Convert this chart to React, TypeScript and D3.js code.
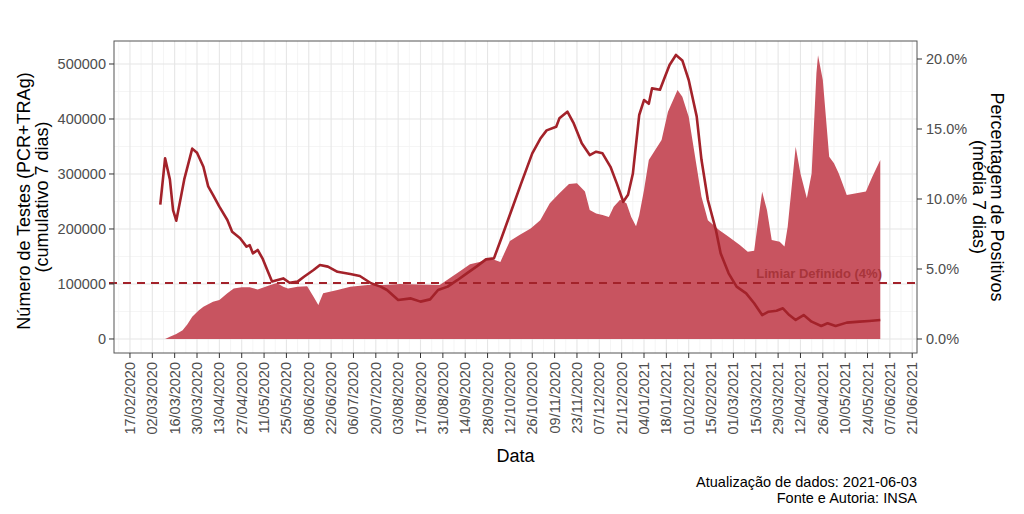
import React from "react";
import * as d3 from "d3";

// testes (cumulativo 7 dias)
const testDates = [
  "2020-03-07", "2020-03-10", "2020-03-13", "2020-03-17", "2020-03-21", "2020-03-24", "2020-03-27", "2020-03-31",
  "2020-04-03", "2020-04-09", "2020-04-13", "2020-04-18", "2020-04-22", "2020-04-27", "2020-05-02", "2020-05-07",
  "2020-05-15", "2020-05-19", "2020-05-23", "2020-05-26", "2020-06-01", "2020-06-07", "2020-06-11", "2020-06-14",
  "2020-06-17", "2020-06-26", "2020-07-04", "2020-07-15", "2020-07-25", "2020-08-04", "2020-08-29", "2020-09-04",
  "2020-09-10", "2020-09-17", "2020-09-23", "2020-09-29", "2020-10-03", "2020-10-06", "2020-10-12", "2020-10-18",
  "2020-10-25", "2020-10-31", "2020-11-06", "2020-11-12", "2020-11-18", "2020-11-23", "2020-11-28", "2020-12-01",
  "2020-12-05", "2020-12-09", "2020-12-13", "2020-12-16", "2020-12-20", "2020-12-24", "2020-12-27", "2020-12-30",
  "2021-01-01", "2021-01-04", "2021-01-07", "2021-01-11", "2021-01-15", "2021-01-19", "2021-01-25", "2021-01-28",
  "2021-02-01", "2021-02-06", "2021-02-09", "2021-02-13", "2021-02-20", "2021-02-26", "2021-03-05", "2021-03-10",
  "2021-03-14", "2021-03-16", "2021-03-19", "2021-03-22", "2021-03-25", "2021-03-30", "2021-04-02", "2021-04-04",
  "2021-04-09", "2021-04-12", "2021-04-16", "2021-04-19", "2021-04-22", "2021-04-23", "2021-04-26", "2021-04-30",
  "2021-05-03", "2021-05-06", "2021-05-11", "2021-05-17", "2021-05-23", "2021-05-27", "2021-06-01",
];
const testValues = [
  0, 0, 4200, 9000, 16000, 27000, 40500, 52000,
  58700, 67800, 71000, 83000, 92000, 94000, 94000, 90000,
  98000, 102000, 95000, 92000, 95000, 96000, 77000, 62000,
  83000, 89000, 95000, 98000, 98000, 100000, 98000, 110000,
  122000, 136000, 140000, 147000, 143000, 140000, 178000, 189000,
  201000, 216000, 247000, 265000, 282000, 283000, 268000, 234500,
  228000, 225500, 222000, 240500, 253000, 247000, 222000, 205000,
  225000, 271000, 325500, 343600, 362000, 413000, 452700, 440500,
  404000, 313000, 258700, 216000, 198000, 186000, 171000, 158700,
  160500, 204000, 267800, 234500, 180000, 177000, 168000, 204000,
  349600, 301000, 255800, 301000, 483000, 516000, 471000, 331500,
  319500, 301000, 262000, 265000, 268000, 295000, 325500,
];

// percentagem de positivos (media 7 dias)
const posDates = [
  "2020-03-07", "2020-03-10", "2020-03-13", "2020-03-15", "2020-03-17", "2020-03-20", "2020-03-22", "2020-03-27",
  "2020-03-30", "2020-04-03", "2020-04-06", "2020-04-09", "2020-04-13", "2020-04-18", "2020-04-21", "2020-04-26",
  "2020-04-30", "2020-05-02", "2020-05-04", "2020-05-07", "2020-05-10", "2020-05-13", "2020-05-16", "2020-05-23",
  "2020-05-27", "2020-06-01", "2020-06-05", "2020-06-11", "2020-06-15", "2020-06-20", "2020-06-26", "2020-07-04",
  "2020-07-10", "2020-07-17", "2020-07-23", "2020-07-27", "2020-08-03", "2020-08-11", "2020-08-17", "2020-08-23",
  "2020-08-28", "2020-09-03", "2020-09-09", "2020-09-15", "2020-09-21", "2020-09-27", "2020-10-02", "2020-10-07",
  "2020-10-13", "2020-10-19", "2020-10-26", "2020-10-31", "2020-11-04", "2020-11-10", "2020-11-12", "2020-11-17",
  "2020-11-21", "2020-11-26", "2020-12-01", "2020-12-05", "2020-12-09", "2020-12-14", "2020-12-18", "2020-12-22",
  "2020-12-25", "2020-12-28", "2021-01-01", "2021-01-04", "2021-01-07", "2021-01-09", "2021-01-14", "2021-01-17",
  "2021-01-20", "2021-01-24", "2021-01-28", "2021-02-01", "2021-02-06", "2021-02-09", "2021-02-13", "2021-02-18",
  "2021-02-21", "2021-02-26", "2021-03-03", "2021-03-09", "2021-03-14", "2021-03-19", "2021-03-23", "2021-03-28",
  "2021-04-01", "2021-04-05", "2021-04-09", "2021-04-14", "2021-04-19", "2021-04-25", "2021-04-29", "2021-05-04",
  "2021-05-11", "2021-05-19", "2021-05-25", "2021-06-01",
];
const posValues = [
  9.6, 12.9, 11.4, 9.2, 8.45, 10.2, 11.4, 13.6,
  13.3, 12.3, 10.9, 10.3, 9.45, 8.5, 7.66, 7.2,
  6.6, 6.7, 6.12, 6.36, 5.76, 4.93, 4.1, 4.33,
  4.02, 4.1, 4.45, 4.93, 5.29, 5.17, 4.8, 4.64,
  4.5, 3.98, 3.74, 3.5, 2.79, 2.9, 2.67, 2.83,
  3.5, 3.74, 4.2, 4.69, 5.17, 5.69, 5.76, 7.3,
  9.2, 11.1, 13.26, 14.3, 14.9, 15.16, 15.76, 16.24,
  15.4, 13.98, 13.14, 13.38, 13.26, 12.3, 11.1, 9.8,
  10.3, 11.8, 16.0, 17.07, 16.8, 17.9, 17.8, 18.7,
  19.57, 20.29, 19.9, 18.5, 15.9, 12.8, 9.93, 7.8,
  6.12, 4.69, 3.74, 3.26, 2.55, 1.71, 1.95, 2.02,
  2.19, 1.71, 1.36, 1.71, 1.24, 0.93, 1.12, 0.93,
  1.17, 1.24, 1.29, 1.36,
];

const leftTicks = [0, 100000, 200000, 300000, 400000, 500000];
const rightTicks = [0, 5, 10, 15, 20];
const threshold = 4;
const firstTick = "2020-02-17";
const lastTick = "2021-06-21";

const W = 1024;
const H = 514;
const panel = { left: 114, right: 917, top: 41, bottom: 353 };
const font = "'Liberation Sans', Arial, sans-serif";
const lineColor = "#A3222A";
const areaColor = "#C85460";

const parse = d3.utcParse("%Y-%m-%d");
const fmt = d3.utcFormat("%d/%m/%Y");

export default function App() {
  const x = d3
    .scaleUtc()
    .domain([parse("2020-02-07"), parse("2021-06-24")])
    .range([panel.left, panel.right]);
  const yL = d3.scaleLinear().domain([-25500, 541800]).range([panel.bottom, panel.top]);
  const yR = d3.scaleLinear().domain([-1.0, 21.286]).range([panel.bottom, panel.top]);

  const tests = testDates.map((d, i) => ({ date: parse(d), v: testValues[i] }));
  const pos = posDates.map((d, i) => ({ date: parse(d), v: posValues[i] }));

  const area = d3
    .area<any>()
    .x((d) => x(d.date))
    .y0(yL(0))
    .y1((d) => yL(d.v));
  const line = d3
    .line<any>()
    .x((d) => x(d.date))
    .y((d) => yR(d.v));

  const xTicks = d3.utcDay.range(parse(firstTick), d3.utcDay.offset(parse(lastTick), 1), 14);
  const xMinor = d3.utcDay
    .range(d3.utcDay.offset(parse(firstTick), -7), parse(lastTick), 14)
    .filter((d) => x(d) >= panel.left && x(d) <= panel.right);
  const yMinor = d3.range(50000, 500000, 100000);

  return (
    <svg width={W} height={H} style={{ position: "absolute", left: 0, top: 0, fontFamily: font }}>
      <rect width={W} height={H} fill="#fff" />
      {/* grid */}
      {yMinor.map((v) => (
        <line key={"ym" + v} x1={panel.left} x2={panel.right} y1={yL(v)} y2={yL(v)} stroke="#F2F2F2" strokeWidth={0.8} />
      ))}
      {xMinor.map((d, i) => (
        <line key={"xm" + i} x1={x(d)} x2={x(d)} y1={panel.top} y2={panel.bottom} stroke="#F2F2F2" strokeWidth={0.8} />
      ))}
      {leftTicks.map((v) => (
        <line key={"yg" + v} x1={panel.left} x2={panel.right} y1={yL(v)} y2={yL(v)} stroke="#E6E6E6" strokeWidth={1.1} />
      ))}
      {xTicks.map((d, i) => (
        <line key={"xg" + i} x1={x(d)} x2={x(d)} y1={panel.top} y2={panel.bottom} stroke="#E6E6E6" strokeWidth={1.1} />
      ))}

      {/* series */}
      <path d={area(tests) || ""} fill={areaColor} />
      <line
        x1={panel.left - 5}
        x2={panel.right}
        y1={yR(threshold)}
        y2={yR(threshold)}
        stroke={lineColor}
        strokeWidth={1.8}
        strokeDasharray="8,6"
      />
      <path d={line(pos) || ""} fill="none" stroke={lineColor} strokeWidth={2.6} strokeLinejoin="round" />
      <text x={882} y={yR(threshold) - 5} textAnchor="end" fontSize={13} fontWeight="bold" fill="#A8353B">
        Limiar Definido (4%)
      </text>

      {/* panel border */}
      <rect
        x={panel.left}
        y={panel.top}
        width={panel.right - panel.left}
        height={panel.bottom - panel.top}
        fill="none"
        stroke="#555"
        strokeWidth={1}
      />

      {/* left axis */}
      {leftTicks.map((v) => (
        <g key={"yl" + v}>
          <line x1={panel.left - 5} x2={panel.left} y1={yL(v)} y2={yL(v)} stroke="#333" />
          <text x={panel.left - 8} y={yL(v)} dy="0.35em" textAnchor="end" fontSize={14.5} fill="#4D4D4D">
            {v}
          </text>
        </g>
      ))}
      {/* right axis */}
      {rightTicks.map((v) => (
        <g key={"yr" + v}>
          <line x1={panel.right} x2={panel.right + 5} y1={yR(v)} y2={yR(v)} stroke="#333" />
          <text x={panel.right + 9} y={yR(v)} dy="0.35em" fontSize={14.5} fill="#4D4D4D">
            {v.toFixed(1) + "%"}
          </text>
        </g>
      ))}
      {/* bottom axis */}
      {xTicks.map((d, i) => (
        <g key={"xt" + i}>
          <line x1={x(d)} x2={x(d)} y1={panel.bottom} y2={panel.bottom + 5} stroke="#333" />
          <text
            transform={`translate(${x(d) + 5},${panel.bottom + 9}) rotate(-90)`}
            textAnchor="end"
            fontSize={14.5}
            fill="#4D4D4D"
          >
            {fmt(d)}
          </text>
        </g>
      ))}

      {/* titles */}
      <text transform="translate(30,201) rotate(-90)" textAnchor="middle" fontSize={18} fill="#000">
        Número de Testes (PCR+TRAg)
      </text>
      <text transform="translate(48,197) rotate(-90)" textAnchor="middle" fontSize={18} fill="#000">
        (cumulativo 7 dias)
      </text>
      <text transform="translate(991,197) rotate(90)" textAnchor="middle" fontSize={18} fill="#000">
        Percentagem de Positivos
      </text>
      <text transform="translate(973,197) rotate(90)" textAnchor="middle" fontSize={18} fill="#000">
        (média 7 dias)
      </text>
      <text x={(panel.left + panel.right) / 2} y={462} textAnchor="middle" fontSize={18} fill="#000">
        Data
      </text>

      {/* footer */}
      <text x={panel.right} y={487} textAnchor="end" fontSize={14.5} fill="#000">
        Atualização de dados: 2021-06-03
      </text>
      <text x={panel.right} y={503} textAnchor="end" fontSize={14.5} fill="#000">
        Fonte e Autoria: INSA
      </text>
    </svg>
  );
}
